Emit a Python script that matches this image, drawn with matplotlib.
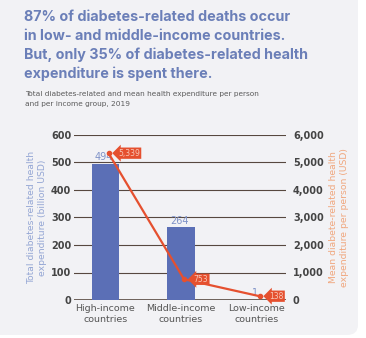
import matplotlib
matplotlib.use("Agg")
import matplotlib.pyplot as plt
from matplotlib.patches import FancyBboxPatch

W, H = 366, 338

groups = ["High-income\ncountries", "Middle-income\ncountries", "Low-income\ncountries"]
total_bn = [494, 264, 1]          # total spend, billion USD (left axis)
per_person = [5339, 753, 138]     # mean spend per person, USD (right axis)
left_ticks = [0, 100, 200, 300, 400, 500, 600]
right_ticks = [0, 1000, 2000, 3000, 4000, 5000, 6000]

BAR = "#5b6fb6"
BAR_TXT = "#8093c8"
LINE = "#e5502f"
GRID = "#57483f"
TITLE = "#6b7fb8"
PANEL = "#f2f2f5"

fig = plt.figure(figsize=(W / 100, H / 100), dpi=100)
fig.patch.set_facecolor("white")

# light card behind everything
card = FancyBboxPatch((-20 / W, 3 / H), 378 / W, 345 / H,
                      boxstyle="round,pad=0,rounding_size=0.03",
                      transform=fig.transFigure, facecolor=PANEL,
                      edgecolor="none", zorder=-10)
fig.patches.append(card)

title = ("87% of diabetes-related deaths occur\n"
         "in low- and middle-income countries.\n"
         "But, only 35% of diabetes-related health\n"
         "expenditure is spent there.")
fig.text(24 / W, 1 - 10 / H, title, ha="left", va="top", fontsize=10.3,
         fontweight="bold", color=TITLE, family="Inter", linespacing=1.42)
fig.text(25 / W, 1 - 91 / H,
         "Total diabetes-related and mean health expenditure per person\n"
         "and per income group, 2019",
         ha="left", va="top", fontsize=5.3, color="#5a5a5a",
         family="DejaVu Sans", linespacing=1.75)

ax = fig.add_axes([74 / W, 1 - 300 / H, 212 / W, 165 / H])
ax.patch.set_alpha(0)
x = list(range(len(groups)))

ax.bar(x, total_bn, width=0.36, color=BAR, zorder=2)
for xi, v in zip(x, total_bn):
    ax.text(xi - 0.02, v + 6, str(v), ha="center", va="bottom",
            fontsize=7, color=BAR_TXT, zorder=4)

ax.set_xlim(-0.417, 2.39)
ax.set_ylim(0, 600)
ax.set_yticks(left_ticks)
for t in left_ticks:
    ax.axhline(t, color=GRID, lw=0.8 if t else 1.2, zorder=1)
for s in ax.spines.values():
    s.set_visible(False)
ax.tick_params(axis="both", length=0)
ax.tick_params(axis="y", pad=2, labelsize=7, labelcolor="#444444")
ax.set_yticklabels([str(t) for t in left_ticks], fontweight="bold")
ax.set_xticks(x)
ax.set_xticklabels(groups, fontsize=6.8, color="#555555", linespacing=1.3)
ax.tick_params(axis="x", pad=3)
ax.set_ylabel("Total diabetes-related health\nexpenditure (billion USD)",
              fontsize=6.7, color="#94a6d4", labelpad=3, linespacing=1.2)

ax2 = ax.twinx()
ax2.set_ylim(0, 6000)
ax2.set_yticks(right_ticks)
ax2.set_yticklabels([f"{t:,}" for t in right_ticks], fontweight="bold")
ax2.tick_params(axis="y", length=0, pad=5, labelsize=7, labelcolor="#444444")
for s in ax2.spines.values():
    s.set_visible(False)
ax2.set_ylabel("Mean diabete-related health\nexpenditure per person (USD)",
               fontsize=6.7, color="#f0a77e", labelpad=4, linespacing=1.2)

lx = [xi + 0.04 for xi in x]
ax2.plot(lx, per_person, color=LINE, lw=1.6, marker="o", ms=3, zorder=5)
for xi, v in zip(lx, per_person):
    ax2.annotate(f"{v:,}", (xi, v), xytext=(7, 0), textcoords="offset points",
                 ha="left", va="center", fontsize=5.5, color="#f8c8b8",
                 bbox=dict(boxstyle="larrow,pad=0.15", fc=LINE, ec="none"),
                 zorder=6)

fig.savefig("out.png", dpi=100, facecolor=fig.get_facecolor())
